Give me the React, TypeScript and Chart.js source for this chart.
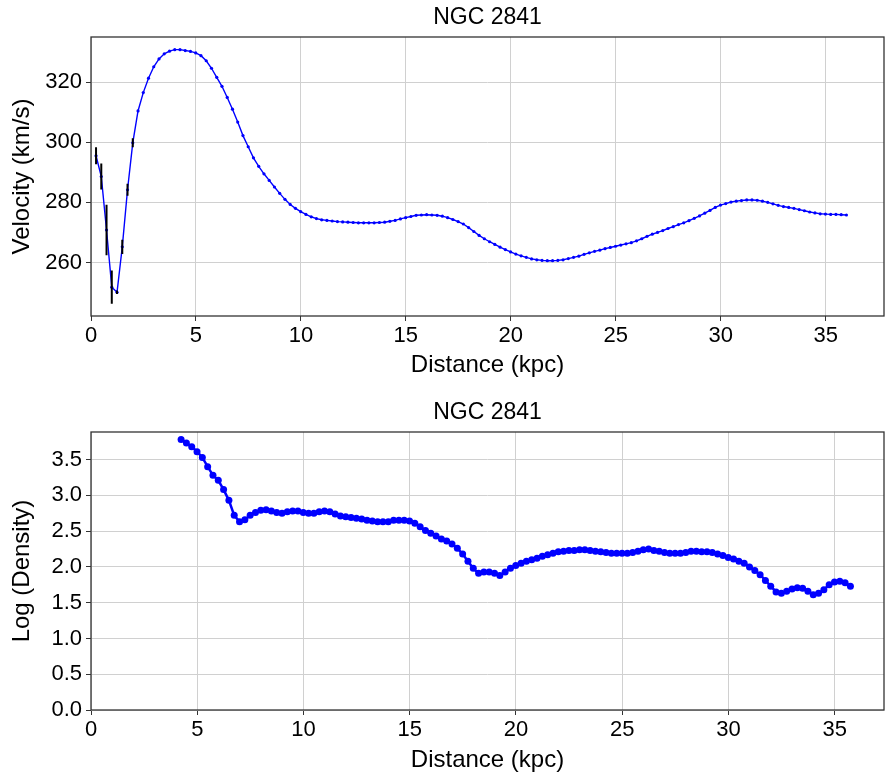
import React, { useEffect, useRef } from "react";
import { Chart, registerables } from "chart.js";

Chart.register(...registerables);

const FONT = "'Liberation Sans', Arial, Helvetica, sans-serif";

const chartTitle = "NGC 2841";
const xLabel = "Distance (kpc)";
const topYLabel = "Velocity (km/s)";
const bottomYLabel = "Log (Density)";

const xTicks = [0, 5, 10, 15, 20, 25, 30, 35];
const velocityTicks = [260, 280, 300, 320];
const densityTicks = [0, 0.5, 1.0, 1.5, 2.0, 2.5, 3.0, 3.5];

const distance = [
  0.24, 0.49, 0.74, 0.99, 1.24, 1.49, 1.74, 1.99, 2.24, 2.49, 2.74, 2.99,
  3.24, 3.49, 3.74, 3.99, 4.24, 4.49, 4.74, 4.99, 5.24, 5.49, 5.74, 5.99,
  6.24, 6.49, 6.74, 6.99, 7.24, 7.49, 7.74, 7.99, 8.24, 8.49, 8.74, 8.99,
  9.24, 9.49, 9.74, 9.99, 10.24, 10.49, 10.74, 10.99, 11.24, 11.49, 11.74, 11.99,
  12.24, 12.49, 12.74, 12.99, 13.24, 13.49, 13.74, 13.99, 14.24, 14.49, 14.74, 14.99,
  15.24, 15.49, 15.74, 15.99, 16.24, 16.49, 16.74, 16.99, 17.24, 17.49, 17.74, 17.99,
  18.24, 18.49, 18.74, 18.99, 19.24, 19.49, 19.74, 19.99, 20.24, 20.49, 20.74, 20.99,
  21.24, 21.49, 21.74, 21.99, 22.24, 22.49, 22.74, 22.99, 23.24, 23.49, 23.74, 23.99,
  24.24, 24.49, 24.74, 24.99, 25.24, 25.49, 25.74, 25.99, 26.24, 26.49, 26.74, 26.99,
  27.24, 27.49, 27.74, 27.99, 28.24, 28.49, 28.74, 28.99, 29.24, 29.49, 29.74, 29.99,
  30.24, 30.49, 30.74, 30.99, 31.24, 31.49, 31.74, 31.99, 32.24, 32.49, 32.74, 32.99,
  33.24, 33.49, 33.74, 33.99, 34.24, 34.49, 34.74, 34.99, 35.24, 35.49, 35.74, 35.99,
];

const velocity = [
  295.5, 288.6, 270.8, 251.8, 250.1, 265.2, 284.2, 299.8, 310.4, 316.5,
  321.3, 325.1, 327.7, 329.4, 330.3, 330.8, 330.8, 330.5, 330.2, 329.7,
  328.8, 327.1, 324.6, 321.6, 318.6, 314.9, 311.0, 306.7, 302.2, 298.5,
  294.8, 292.0, 289.5, 287.3, 285.1, 283.0, 281.0, 279.3, 278.0, 276.9,
  276.0, 275.2, 274.6, 274.2, 274.0, 273.8, 273.6, 273.5, 273.4, 273.3,
  273.2, 273.2, 273.2, 273.2, 273.3, 273.4, 273.7, 274.0, 274.5, 274.9,
  275.3, 275.7, 275.8, 275.9, 275.8, 275.7, 275.4, 274.9, 274.3, 273.6,
  272.8, 271.6, 270.3, 269.0, 267.9, 266.9, 266.0, 265.1, 264.3, 263.5,
  262.8, 262.2, 261.7, 261.2, 260.9, 260.7, 260.6, 260.6, 260.7, 260.9,
  261.3, 261.7, 262.1, 262.7, 263.2, 263.7, 264.1, 264.6, 265.0, 265.4,
  265.8, 266.2, 266.6, 267.2, 267.9, 268.7, 269.4, 270.0, 270.6, 271.3,
  271.9, 272.6, 273.2, 273.9, 274.7, 275.5, 276.4, 277.3, 278.3, 279.1,
  279.6, 280.1, 280.4, 280.6, 280.8, 280.8, 280.7, 280.4, 280.0, 279.5,
  279.0, 278.6, 278.3, 278.0, 277.6, 277.2, 276.8, 276.5, 276.2, 276.1,
  276.0, 276.0, 275.9, 275.8,
];

// error bars (km/s) of the innermost points; the others are too small to see
const velocityError = [2.8, 4.3, 8.4, 5.5, 0.6, 2.4, 2.0, 1.5];

// density profile starts at distance index 16 (4.24 kpc)
const densityStartIndex = 16;
const logDensity = [
  3.78, 3.73, 3.68, 3.61, 3.53, 3.40, 3.28, 3.21, 3.08, 2.93,
  2.72, 2.63, 2.66, 2.72, 2.76, 2.79, 2.80, 2.78, 2.76, 2.75,
  2.77, 2.78, 2.78, 2.76, 2.75, 2.75, 2.77, 2.78, 2.77, 2.74,
  2.71, 2.70, 2.69, 2.68, 2.67, 2.65, 2.64, 2.63, 2.63, 2.63,
  2.65, 2.65, 2.65, 2.64, 2.61, 2.56, 2.51, 2.47, 2.43, 2.39,
  2.36, 2.32, 2.26, 2.18, 2.08, 1.98, 1.91, 1.93, 1.93, 1.91,
  1.88, 1.93, 1.98, 2.02, 2.05, 2.08, 2.10, 2.12, 2.15, 2.17,
  2.19, 2.21, 2.22, 2.23, 2.23, 2.24, 2.24, 2.23, 2.22, 2.21,
  2.20, 2.19, 2.19, 2.19, 2.19, 2.20, 2.22, 2.24, 2.25, 2.23,
  2.22, 2.20, 2.19, 2.19, 2.19, 2.20, 2.22, 2.22, 2.21, 2.21,
  2.20, 2.18, 2.16, 2.13, 2.11, 2.08, 2.05, 2.00, 1.95, 1.89,
  1.81, 1.73, 1.65, 1.63, 1.66, 1.69, 1.71, 1.70, 1.66, 1.61,
  1.63, 1.68, 1.75, 1.79, 1.80, 1.78, 1.73,
];

const framePlugin = {
  id: "frame",
  afterDatasetsDraw(chart: any) {
    const { ctx, chartArea: a } = chart;
    ctx.save();
    ctx.strokeStyle = "#333333";
    ctx.lineWidth = 1.3;
    ctx.strokeRect(a.left, a.top, a.right - a.left, a.bottom - a.top);
    ctx.restore();
  },
};

const errorBarPlugin = {
  id: "errorBars",
  afterDatasetsDraw(chart: any) {
    const { ctx } = chart;
    const xs = chart.scales.x;
    const ys = chart.scales.y;
    ctx.save();
    ctx.strokeStyle = "#000000";
    ctx.lineWidth = 2;
    ctx.beginPath();
    velocityError.forEach((e, i) => {
      const x = xs.getPixelForValue(distance[i]);
      ctx.moveTo(x, ys.getPixelForValue(velocity[i] - e));
      ctx.lineTo(x, ys.getPixelForValue(velocity[i] + e));
    });
    ctx.stroke();
    ctx.restore();
  },
};

function makeOptions(cfg: {
  xMax: number;
  yMin: number;
  yMax: number;
  yTicks: number[];
  yLabel: string;
  yFmt: (v: number) => string;
  titlePad: { top: number; bottom: number };
  xAxisHeight: number;
  xTitlePadBottom: number;
}) {
  const tickFont = { family: FONT, size: 22 };
  const labelFont = { family: FONT, size: 24 };
  return {
    responsive: false,
    animation: false,
    events: [],
    layout: { padding: { left: 0, right: 4, top: 0, bottom: 0 } },
    plugins: {
      legend: { display: false },
      tooltip: { enabled: false },
      title: {
        display: true,
        text: chartTitle,
        fullSize: false,
        color: "#000000",
        font: { family: FONT, size: 23, weight: "normal" },
        padding: cfg.titlePad,
      },
    },
    scales: {
      x: {
        type: "linear",
        min: 0,
        max: cfg.xMax,
        afterBuildTicks: (s: any) => {
          s.ticks = xTicks.map((v) => ({ value: v }));
        },
        afterFit: (s: any) => {
          s.height = cfg.xAxisHeight;
        },
        border: { display: false },
        grid: { color: "#d0d0d0", lineWidth: 1, tickColor: "#333333", tickLength: 5, drawTicks: true },
        ticks: { color: "#000000", font: tickFont, padding: 2, maxRotation: 0, callback: (v: number) => String(v) },
        title: {
          display: true,
          text: xLabel,
          color: "#000000",
          font: labelFont,
          padding: { top: 0, bottom: cfg.xTitlePadBottom },
        },
      },
      y: {
        type: "linear",
        min: cfg.yMin,
        max: cfg.yMax,
        afterBuildTicks: (s: any) => {
          s.ticks = cfg.yTicks.map((v) => ({ value: v }));
        },
        afterFit: (s: any) => {
          s.width = 91;
        },
        border: { display: false },
        grid: { color: "#d0d0d0", lineWidth: 1, tickColor: "#333333", tickLength: 5, drawTicks: true },
        ticks: { color: "#000000", font: tickFont, padding: 4, callback: (v: number) => cfg.yFmt(v) },
        title: {
          display: true,
          text: cfg.yLabel,
          color: "#000000",
          font: labelFont,
          padding: { top: 7.6, bottom: 0 },
        },
      },
    },
  };
}

function VelocityChart() {
  const ref = useRef<HTMLCanvasElement | null>(null);
  useEffect(() => {
    if (!ref.current) return;
    const chart = new Chart(ref.current, {
      type: "line",
      data: {
        datasets: [
          {
            data: distance.map((d, i) => ({ x: d, y: velocity[i] })),
            borderColor: "#0000ff",
            backgroundColor: "#0000ff",
            borderWidth: 1.4,
            pointRadius: 1.6,
            pointBorderWidth: 0,
            pointBackgroundColor: "#0000ff",
            tension: 0,
            fill: false,
          },
        ],
      },
      options: makeOptions({
        xMax: 37.78,
        yMin: 242.2,
        yMax: 335.0,
        yTicks: velocityTicks,
        yLabel: topYLabel,
        yFmt: (v) => String(v),
        titlePad: { top: 4, bottom: 5.4 },
        xAxisHeight: 76,
        xTitlePadBottom: 12.6,
      }) as any,
      plugins: [errorBarPlugin, framePlugin],
    });
    return () => chart.destroy();
  }, []);
  return <canvas ref={ref} width={888} height={392} style={{ display: "block" }} />;
}

function DensityChart() {
  const ref = useRef<HTMLCanvasElement | null>(null);
  useEffect(() => {
    if (!ref.current) return;
    const chart = new Chart(ref.current, {
      type: "line",
      data: {
        datasets: [
          {
            data: logDensity.map((v, i) => ({ x: distance[densityStartIndex + i], y: v })),
            borderColor: "#0000ff",
            backgroundColor: "#0000ff",
            borderWidth: 2.5,
            pointRadius: 3.5,
            pointBorderWidth: 0,
            pointBackgroundColor: "#0000ff",
            tension: 0,
            fill: false,
          },
        ],
      },
      options: makeOptions({
        xMax: 37.32,
        yMin: 0,
        yMax: 3.885,
        yTicks: densityTicks,
        yLabel: bottomYLabel,
        yFmt: (v) => v.toFixed(1),
        titlePad: { top: 7.2, bottom: 5.2 },
        xAxisHeight: 67,
        xTitlePadBottom: 2.6,
      }) as any,
      plugins: [framePlugin],
    });
    return () => chart.destroy();
  }, []);
  return <canvas ref={ref} width={888} height={385} style={{ display: "block" }} />;
}

export default function App() {
  return (
    <div
      style={{
        position: "absolute",
        left: 0,
        top: 0,
        width: 888,
        height: 777,
        background: "#ffffff",
      }}
    >
      <VelocityChart />
      <DensityChart />
    </div>
  );
}
